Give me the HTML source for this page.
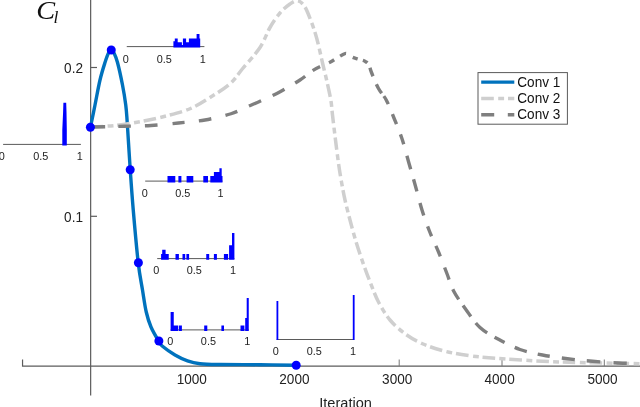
<!DOCTYPE html>
<html><head><meta charset="utf-8"><title>Cl vs Iteration</title>
<style>
html,body{margin:0;padding:0;background:#fff;}
body{width:640px;height:407px;overflow:hidden;}
svg{display:block;}
text{font-family:"Liberation Sans",sans-serif;fill:#222;}
.s{font-size:10.9px;text-anchor:middle;}
.t{font-size:13.6px;text-anchor:middle;}
.y{font-size:13.6px;text-anchor:end;}
.l{font-size:13.6px;fill:#111;}
.x{font-size:14.6px;text-anchor:middle;}
text.m{font-family:"Liberation Serif",serif;font-style:italic;fill:#111;}
</style></head><body>
<svg width="640" height="407" viewBox="0 0 640 407">
<rect width="640" height="407" fill="#fff"/>
<!-- axes -->
<g stroke="#5c5c5c" stroke-width="1.2" fill="none">
<line x1="90.65" y1="0" x2="90.65" y2="395.5"/>
<polyline points="22.55,359.6 22.55,366.05 640,366.05"/>
<line x1="90.6" y1="67.5" x2="97" y2="67.5"/>
<line x1="90.6" y1="216.3" x2="97" y2="216.3"/>
</g>
<g stroke="#777" stroke-width="1" fill="none">
<line x1="399.2" y1="359.5" x2="399.2" y2="366"/>
<line x1="502" y1="359.5" x2="502" y2="366"/>
<line x1="604.3" y1="359.5" x2="604.3" y2="366"/>
</g>
<!-- histograms -->
<line x1="3.10" y1="144.40" x2="80.90" y2="144.40" stroke="#5a5a5a" stroke-width="1"/>
<text class="s" transform="translate(1.70,159.50) scale(1,1.025)">0</text>
<text class="s" transform="translate(40.70,159.50) scale(1,1.025)">0.5</text>
<text class="s" transform="translate(79.80,159.50) scale(1,1.025)">1</text>
<path d="M62.3,145.4 V130 L63.1,112 L63.4,102.7 H66.2 L66.5,112 L66.8,130 V145.4 Z" fill="#0000ff"/>
<line x1="126.75" y1="46.60" x2="204.40" y2="46.60" stroke="#5a5a5a" stroke-width="1"/>
<path d="M173.40,47.40 V41.20 H174.80 V38.40 H177.70 V42.20 H181.90 V45.00 H182.90 V38.40 H186.10 V42.20 H188.90 V38.40 H196.60 V34.10 H199.50 V38.40 H200.20 V47.40 Z" fill="#0000ff"/>
<text class="s" transform="translate(125.75,62.70) scale(1,1.025)">0</text>
<text class="s" transform="translate(164.25,62.70) scale(1,1.025)">0.5</text>
<text class="s" transform="translate(202.75,62.70) scale(1,1.025)">1</text>
<line x1="145.20" y1="181.10" x2="222.50" y2="181.10" stroke="#5a5a5a" stroke-width="1"/>
<path d="M167.50,182.50 V176.10 H175.30 V182.50 Z M178.40,182.50 V176.10 H181.40 V182.50 Z M186.60,182.50 V176.10 H193.30 V182.50 Z M203.30,182.50 V176.10 H208.00 V182.50 Z M210.30,182.50 V176.10 H213.90 V171.90 H219.40 V168.30 H221.70 V176.10 H222.50 V182.50 Z" fill="#0000ff"/>
<text class="s" transform="translate(144.70,196.80) scale(1,1.025)">0</text>
<text class="s" transform="translate(182.70,196.80) scale(1,1.025)">0.5</text>
<text class="s" transform="translate(220.60,196.80) scale(1,1.025)">1</text>
<line x1="157.20" y1="258.60" x2="234.40" y2="258.60" stroke="#5a5a5a" stroke-width="1"/>
<path d="M161.10,259.70 V253.90 H162.20 V249.70 H165.60 V253.90 H168.75 V259.70 Z M175.50,259.70 V253.90 H178.90 V259.70 Z M182.50,259.70 V253.90 H185.20 V259.70 Z M186.40,259.70 V253.90 H189.10 V259.70 Z M206.25,259.70 V253.90 H209.20 V259.70 Z M213.90,259.70 V253.90 H216.90 V259.70 Z M223.90,259.70 V253.90 H228.10 V259.70 Z M229.10,259.70 V245.30 H232.00 V233.10 H234.40 V259.70 Z" fill="#0000ff"/>
<text class="s" transform="translate(156.25,273.90) scale(1,1.025)">0</text>
<text class="s" transform="translate(194.20,273.90) scale(1,1.025)">0.5</text>
<text class="s" transform="translate(233.00,273.90) scale(1,1.025)">1</text>
<line x1="170.60" y1="329.90" x2="248.75" y2="329.90" stroke="#5a5a5a" stroke-width="1"/>
<path d="M170.60,330.90 V311.90 H173.75 V325.60 H178.00 V330.90 Z M178.75,330.90 V325.60 H181.90 V330.90 Z M204.20,330.90 V325.60 H207.30 V330.90 Z M221.40,330.90 V325.60 H224.00 V330.90 Z M240.50,330.90 V325.60 H244.40 V330.90 Z M245.20,330.90 V318.10 H246.70 V298.10 H248.75 V330.90 Z" fill="#0000ff"/>
<text class="s" transform="translate(170.20,344.90) scale(1,1.025)">0</text>
<text class="s" transform="translate(208.40,344.90) scale(1,1.025)">0.5</text>
<text class="s" transform="translate(247.20,344.90) scale(1,1.025)">1</text>
<line x1="276.75" y1="339.50" x2="354.00" y2="339.50" stroke="#5a5a5a" stroke-width="1"/>
<path d="M276.50,340.00 V301.00 H278.30 V340.00 Z M352.80,340.00 V295.00 H354.60 V340.00 Z" fill="#0000ff"/>
<text class="s" transform="translate(275.75,355.00) scale(1,1.025)">0</text>
<text class="s" transform="translate(314.25,355.00) scale(1,1.025)">0.5</text>
<text class="s" transform="translate(353.00,355.00) scale(1,1.025)">1</text>

<!-- curves -->
<path d="M90.50,127.00 C91.25,123.33 93.42,112.83 95.00,105.00 C96.58,97.17 98.33,87.08 100.00,80.00 C101.67,72.92 103.58,67.00 105.00,62.50 C106.42,58.00 107.46,55.08 108.50,53.00 C109.54,50.92 110.33,50.00 111.25,50.00 C112.17,50.00 112.96,50.92 114.00,53.00 C115.04,55.08 116.08,57.17 117.50,62.50 C118.92,67.83 121.12,77.92 122.50,85.00 C123.88,92.08 124.97,98.83 125.75,105.00 C126.53,111.17 126.45,111.17 127.20,122.00 C127.95,132.83 129.24,155.33 130.25,170.00 C131.26,184.67 131.92,194.50 133.25,210.00 C134.58,225.50 136.71,249.67 138.25,263.00 C139.79,276.33 141.17,281.83 142.50,290.00 C143.83,298.17 144.83,305.83 146.25,312.00 C147.67,318.17 148.92,322.12 151.00,327.00 C153.08,331.88 156.83,338.03 158.75,341.25 C160.67,344.47 159.79,344.01 162.50,346.30 C165.21,348.59 170.83,352.57 175.00,355.00 C179.17,357.43 183.33,359.45 187.50,360.90 C191.67,362.35 194.58,363.10 200.00,363.70 C205.42,364.30 210.00,364.33 220.00,364.50 C230.00,364.67 247.29,364.58 260.00,364.70 C272.71,364.82 290.21,365.12 296.25,365.20" fill="none" stroke="#0072bd" stroke-width="3.4" stroke-linejoin="round"/>
<path d="M90.50,127.00 C94.58,126.75 106.75,126.38 115.00,125.50 C123.25,124.62 131.67,123.29 140.00,121.75 C148.33,120.21 156.67,118.42 165.00,116.25 C173.33,114.08 182.50,111.88 190.00,108.75 C197.50,105.62 203.33,101.67 210.00,97.50 C216.67,93.33 224.58,88.54 230.00,83.75 C235.42,78.96 237.50,74.79 242.50,68.75 C247.50,62.71 255.42,54.38 260.00,47.50 C264.58,40.62 266.67,33.25 270.00,27.50 C273.33,21.75 276.67,16.92 280.00,13.00 C283.33,9.08 287.08,6.03 290.00,4.00 C292.92,1.97 295.08,0.43 297.50,0.80 C299.92,1.18 302.25,2.88 304.50,6.25 C306.75,9.62 308.93,15.54 311.00,21.00 C313.07,26.46 314.90,31.67 316.90,39.00 C318.90,46.33 321.38,58.17 323.00,65.00 C324.62,71.83 325.30,74.17 326.60,80.00 C327.90,85.83 329.82,94.17 330.80,100.00 C331.78,105.83 331.72,108.33 332.50,115.00 C333.28,121.67 334.46,131.67 335.50,140.00 C336.54,148.33 337.75,158.00 338.75,165.00 C339.75,172.00 340.46,176.17 341.50,182.00 C342.54,187.83 343.58,193.67 345.00,200.00 C346.42,206.33 348.12,212.92 350.00,220.00 C351.88,227.08 353.96,235.00 356.25,242.50 C358.54,250.00 361.25,257.92 363.75,265.00 C366.25,272.08 368.75,278.75 371.25,285.00 C373.75,291.25 375.62,296.67 378.75,302.50 C381.88,308.33 385.62,314.79 390.00,320.00 C394.38,325.21 399.58,329.79 405.00,333.75 C410.42,337.71 415.83,340.83 422.50,343.75 C429.17,346.67 437.08,349.25 445.00,351.25 C452.92,353.25 461.67,354.58 470.00,355.75 C478.33,356.92 482.92,357.33 495.00,358.25 C507.08,359.17 528.33,360.54 542.50,361.25 C556.67,361.96 563.75,362.08 580.00,362.50 C596.25,362.92 630.00,363.54 640.00,363.75" fill="none" stroke="#cfcfcf" stroke-width="3.5" stroke-dasharray="12.6 4.4 5.9 3.9"/>
<path d="M90.50,127.00 C96.08,126.88 113.92,126.50 124.00,126.25 C134.08,126.00 141.92,126.04 151.00,125.50 C160.08,124.96 169.50,123.92 178.50,123.00 C187.50,122.08 196.25,121.54 205.00,120.00 C213.75,118.46 223.67,116.08 231.00,113.75 C238.33,111.42 244.17,108.08 249.00,106.00 C253.83,103.92 255.04,103.50 260.00,101.25 C264.96,99.00 272.08,96.04 278.75,92.50 C285.42,88.96 294.46,83.58 300.00,80.00 C305.54,76.42 308.42,73.33 312.00,71.00 C315.58,68.67 318.50,67.45 321.50,66.00 C324.50,64.55 327.42,63.63 330.00,62.30 C332.58,60.97 334.75,59.35 337.00,58.00 C339.25,56.65 341.83,54.93 343.50,54.20 C345.17,53.47 345.58,53.13 347.00,53.60 C348.42,54.07 350.08,56.07 352.00,57.00 C353.92,57.93 356.33,58.48 358.50,59.20 C360.67,59.92 363.28,60.42 365.00,61.30 C366.72,62.18 367.72,62.63 368.80,64.50 C369.88,66.37 369.88,68.50 371.50,72.50 C373.12,76.50 376.04,83.92 378.50,88.50 C380.96,93.08 383.71,95.17 386.25,100.00 C388.79,104.83 391.12,111.04 393.75,117.50 C396.38,123.96 399.50,131.25 402.00,138.75 C404.50,146.25 406.50,154.58 408.75,162.50 C411.00,170.42 413.29,178.33 415.50,186.25 C417.71,194.17 419.67,202.50 422.00,210.00 C424.33,217.50 426.71,224.17 429.50,231.25 C432.29,238.33 435.83,245.42 438.75,252.50 C441.67,259.58 444.50,267.29 447.00,273.75 C449.50,280.21 450.54,285.21 453.75,291.25 C456.96,297.29 461.88,303.96 466.25,310.00 C470.62,316.04 474.62,322.62 480.00,327.50 C485.38,332.38 491.83,335.63 498.50,339.30 C505.17,342.97 512.67,346.88 520.00,349.50 C527.33,352.12 534.58,353.46 542.50,355.00 C550.42,356.54 559.17,357.71 567.50,358.75 C575.83,359.79 583.96,360.54 592.50,361.25 C601.04,361.96 610.83,362.62 618.75,363.00 C626.67,363.38 636.46,363.42 640.00,363.50" fill="none" stroke="#7f7f7f" stroke-width="3.4" stroke-dasharray="14.7 12.9 12.5 14.4 12.6 15.0 12.1 14.4 12.7 14.2 12.6 13.0 13.4 12.6 13.5 12.2 12.0 9.4 8.5 9.6 6.0 7.1 6.7 7.7 5.2 5.2 5.3 5.6 9.1 8.4 10.7 3.8 9.2 10.8 10.8 10.8 10.5 11.9 14.0 10.4 12.5 11.9 13.0 11.7 10.7 10.5 11.4 11.8 12.9 10.7 11.6 7.4 13.5 8.1 15.2 8.6 11.4 11.1 12.8 11.3 12.3 12.1 13.1 12.0 13.6 12.9 13.5 5000.0"/>
<g fill="#0000ff">
<circle cx="90.4" cy="127.2" r="4.5"/>
<circle cx="111.25" cy="50" r="4.5"/>
<circle cx="130.2" cy="169.7" r="4.5"/>
<circle cx="138.4" cy="262.7" r="4.5"/>
<circle cx="158.9" cy="341" r="4.5"/>
<circle cx="296.2" cy="365.2" r="4.5"/>
</g>
<!-- labels -->
<text class="y" transform="translate(83.00,72.80) scale(1,1.025)">0.2</text>
<text class="y" transform="translate(83.00,221.60) scale(1,1.025)">0.1</text>
<text class="t" transform="translate(191.80,384.10) scale(1,1.025)">1000</text>
<text class="t" transform="translate(294.40,384.10) scale(1,1.025)">2000</text>
<text class="t" transform="translate(397.20,384.10) scale(1,1.025)">3000</text>
<text class="t" transform="translate(499.60,384.10) scale(1,1.025)">4000</text>
<text class="t" transform="translate(602.50,384.10) scale(1,1.025)">5000</text>
<text class="x" transform="translate(345.60,407.90) scale(1,1.025)">Iteration</text>
<text class="m" transform="translate(36.3,19.2) scale(1.09,1)" style="font-size:26px">C</text><text class="m" x="53.6" y="22.7" style="font-size:17.5px">l</text>
<!-- legend -->
<rect x="478" y="72.6" width="89.4" height="51.6" fill="#fff" stroke="#5a5a5a" stroke-width="1"/>
<line x1="481.2" y1="82.1" x2="514.3" y2="82.1" stroke="#0072bd" stroke-width="3.3"/>
<line x1="481.2" y1="98.5" x2="514.3" y2="98.5" stroke="#cfcfcf" stroke-width="3.5" stroke-dasharray="12.6 4.4 5.9 3.9"/>
<line x1="481.2" y1="114.7" x2="514.3" y2="114.7" stroke="#7f7f7f" stroke-width="3.6" stroke-dasharray="13 13.6"/>
<text class="l" transform="translate(517.30,87.00) scale(1,1.025)">Conv 1</text>
<text class="l" transform="translate(517.30,103.10) scale(1,1.025)">Conv 2</text>
<text class="l" transform="translate(517.30,119.30) scale(1,1.025)">Conv 3</text>
</svg>
</body></html>
